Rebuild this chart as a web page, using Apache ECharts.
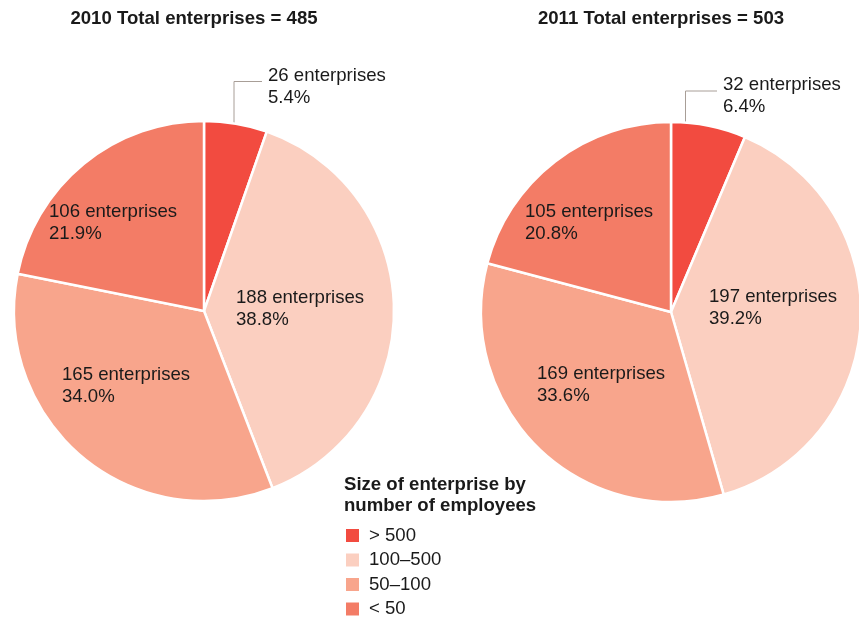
<!DOCTYPE html>
<html>
<head>
<meta charset="utf-8">
<title>Enterprises by size, 2010 and 2011</title>
<script src="https://cdn.jsdelivr.net/npm/echarts@6/dist/echarts.min.js"></script>
<style>
  html, body { margin: 0; padding: 0; background: #ffffff; }
  #chart { width: 859px; height: 617px; }
</style>
</head>
<body>
<div id="chart"></div>
<script>
// Enterprise counts by number of employees
const categories = ['> 500', '100–500', '50–100', '< 50'];
const years = ['2010', '2011'];
const totals = [485, 503];
const enterprises2010 = [26, 188, 165, 106];
const enterprises2011 = [32, 197, 169, 105];
const share2010 = ['5.4%', '38.8%', '34.0%', '21.9%'];
const share2011 = ['6.4%', '39.2%', '33.6%', '20.8%'];

const values = [enterprises2010, enterprises2011];
const shares = [share2010, share2011];
const colors = ['#f24b40', '#fbcfc0', '#f8a58c', '#f37c66'];

const FONT = '"Liberation Sans", Arial, Helvetica, sans-serif';
const FS = 18.6;
const TEXT = '#1a1a1a';
const PIE_R = 190;
const centers = [[204, 311], [671, 312]];

// label anchors (left edge, vertical middle), relative to each pie centre
const labelOffsets = [
  [[64, -224], [32, -2], [-142, 74.5], [-155, -88]],
  [[52, -216], [38, -4], [-134, 73], [-146, -89]]
];
// leader line for the small slice: foot on the rim, elbow height, end of the horizontal run
const leaders = [
  { foot: 30, elbowY: -229.5, endX: 58 },
  { foot: 14.5, elbowY: -221, endX: 46 }
];

function buildSeries(s) {
  return {
    type: 'pie',
    name: years[s],
    center: centers[s],
    radius: PIE_R,
    startAngle: 90,
    clockwise: true,
    avoidLabelOverlap: false,
    emphasis: { disabled: true },
    itemStyle: { borderColor: '#ffffff', borderWidth: 2.5 },
    label: {
      color: TEXT,
      fontFamily: FONT,
      fontSize: FS,
      lineHeight: 22,
      formatter: p => p.value + ' enterprises\n' + shares[s][p.dataIndex]
    },
    labelLine: { lineStyle: { color: '#a89e97', width: 1 } },
    labelLayout: p => {
      const c = centers[p.seriesIndex];
      const off = labelOffsets[p.seriesIndex][p.dataIndex];
      const out = {
        x: c[0] + off[0],
        y: c[1] + off[1],
        align: 'left',
        verticalAlign: 'middle'
      };
      if (p.dataIndex === 0) {
        const L = leaders[p.seriesIndex];
        const rimY = -Math.sqrt(PIE_R * PIE_R - L.foot * L.foot);
        out.labelLinePoints = [
          [c[0] + L.foot, c[1] + rimY],
          [c[0] + L.foot, c[1] + L.elbowY],
          [c[0] + L.endX, c[1] + L.elbowY]
        ];
      }
      return out;
    },
    data: categories.map((name, i) => ({
      name: name,
      value: values[s][i],
      itemStyle: { color: colors[i] },
      label: { position: i === 0 ? 'outside' : 'inside' },
      labelLine: { show: i === 0, length: 10, length2: 10 }
    }))
  };
}

const chart = echarts.init(document.getElementById('chart'), null, { renderer: 'canvas' });

chart.setOption({
  backgroundColor: '#ffffff',
  animation: false,
  graphic: [
    {
      type: 'text', x: 194, y: 19,
      style: {
        text: years[0] + ' Total enterprises = ' + totals[0],
        font: 'bold ' + FS + 'px ' + FONT, fill: TEXT,
        textAlign: 'center', textVerticalAlign: 'middle'
      }
    },
    {
      type: 'text', x: 661, y: 19,
      style: {
        text: years[1] + ' Total enterprises = ' + totals[1],
        font: 'bold ' + FS + 'px ' + FONT, fill: TEXT,
        textAlign: 'center', textVerticalAlign: 'middle'
      }
    },
    {
      type: 'text', x: 344, y: 495,
      style: {
        text: 'Size of enterprise by\nnumber of employees',
        font: 'bold ' + FS + 'px ' + FONT, fill: TEXT, lineHeight: 21,
        textAlign: 'left', textVerticalAlign: 'middle'
      }
    }
  ],
  legend: {
    orient: 'vertical',
    left: 346,
    top: 526,
    height: 100,
    padding: 0,
    itemWidth: 13,
    itemHeight: 13,
    itemGap: 5.5,
    icon: 'rect',
    selectedMode: false,
    data: categories,
    itemStyle: { borderWidth: 0 },
    textStyle: {
      fontFamily: FONT,
      fontSize: FS,
      color: TEXT,
      padding: [0, 0, 0, 5]
    }
  },
  series: [buildSeries(0), buildSeries(1)]
});
</script>
</body>
</html>
